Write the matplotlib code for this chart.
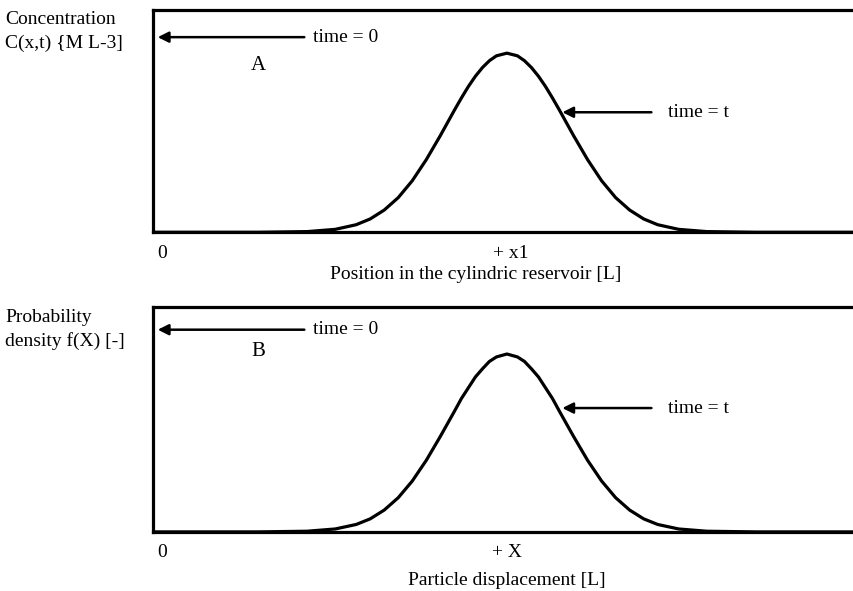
import matplotlib
matplotlib.use("Agg")
import matplotlib.pyplot as plt

plt.rcParams['font.family'] = ['Liberation Serif', 'DejaVu Serif']

# curve (x: 0..100 across the frame, y: 0..1 of frame height)
pos_x = [0, 15, 22, 26, 29, 31, 33, 35, 37, 39, 41, 43, 44, 45, 46, 47, 48, 49, 50.5,
         52, 53, 54, 55, 56, 57, 58, 60, 62, 64, 66, 68, 70, 72, 75, 79, 86, 100]
conc_y = [0.0, 0.0, 0.003, 0.013, 0.034, 0.060, 0.100, 0.156, 0.232, 0.327,
          0.435, 0.549, 0.604, 0.656, 0.702, 0.741, 0.772, 0.794, 0.806,
          0.794, 0.772, 0.741, 0.702, 0.656, 0.604, 0.549,
          0.435, 0.327, 0.232, 0.156, 0.100, 0.060, 0.034, 0.013, 0.003, 0.0, 0.0]
prob_y = [0.0, 0.0, 0.003, 0.013, 0.033, 0.058, 0.097, 0.152, 0.226, 0.318,
          0.424, 0.535, 0.592, 0.640, 0.688, 0.724, 0.757, 0.777, 0.790,
          0.777, 0.757, 0.724, 0.688, 0.640, 0.592, 0.535,
          0.424, 0.318, 0.226, 0.152, 0.097, 0.058, 0.033, 0.013, 0.003, 0.0, 0.0]

panels = [
    dict(y=conc_y, rect=[0.179, 0.607, 0.83, 0.376], letter='A',
         ticks=['0', '+ x1'], tick_x=[1.3, 51],
         xlabel='Position in the cylindric reservoir [L]', xlab_x=46, xlab_y=-0.19,
         ylab=['Concentration', 'C(x,t) {M L-3]'], ylab_y=[20, 43],
         arr0=0.878, arrt=0.54, letter_y=0.75),
    dict(y=prob_y, rect=[0.179, 0.100, 0.83, 0.381], letter='B',
         ticks=['0', '+ X'], tick_x=[1.3, 50.5],
         xlabel='Particle displacement [L]', xlab_x=50.5, xlab_y=-0.215,
         ylab=['Probability', 'density f(X) [-]'], ylab_y=[318, 341],
         arr0=0.898, arrt=0.55, letter_y=0.80),
]

fig = plt.figure(figsize=(8.54, 5.91), dpi=100)
fs = 14
xmax = 100 * 0.83 / 0.821

for p in panels:
    ax = fig.add_axes(p['rect'])
    ax.plot(pos_x, p['y'], color='black', lw=2.3, solid_joinstyle='round',
            solid_capstyle='round')
    ax.set_xlim(0, xmax)
    ax.set_ylim(0, 1)
    for s in ['top', 'left', 'bottom']:
        ax.spines[s].set_linewidth(2.3)
    ax.spines['right'].set_visible(False)
    ax.set_yticks([])
    ax.set_xticks(p['tick_x'])
    ax.set_xticklabels(p['ticks'], fontsize=fs)
    ax.tick_params(axis='x', length=0, pad=9)
    ax.text(p['xlab_x'] / xmax, p['xlab_y'], p['xlabel'], fontsize=fs,
            ha='center', va='center', transform=ax.transAxes)

    # time = 0 arrow at the left edge
    ax.annotate('', xy=(0.3, p['arr0']), xytext=(22, p['arr0']),
                arrowprops=dict(arrowstyle='-|>', color='black', lw=1.8,
                                mutation_scale=16))
    ax.text(22.8, p['arr0'], 'time = 0', fontsize=fs, va='center')
    ax.text(15, p['letter_y'], p['letter'], fontsize=fs + 1, ha='center', va='center')

    # time = t arrow onto the curve
    ax.annotate('', xy=(58.0, p['arrt']), xytext=(71.5, p['arrt']),
                arrowprops=dict(arrowstyle='-|>', color='black', lw=1.8,
                                mutation_scale=16))
    ax.text(73.5, p['arrt'], 'time = t', fontsize=fs, va='center')

    for txt, py in zip(p['ylab'], p['ylab_y']):
        fig.text(5 / 854, 1 - py / 591, txt, fontsize=fs, va='center', ha='left')

fig.savefig('out.png', dpi=100)
